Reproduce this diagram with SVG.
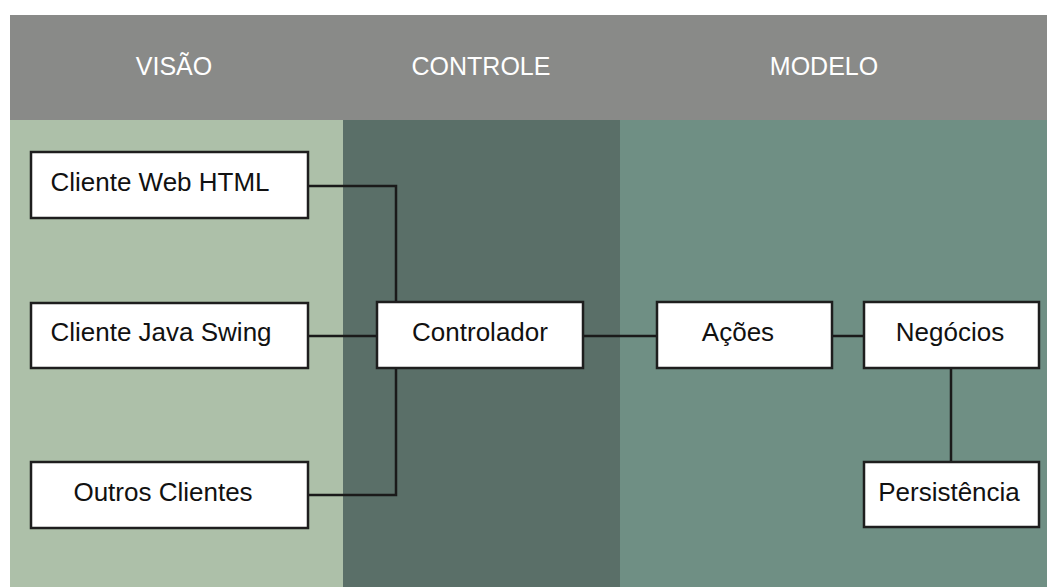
<svg xmlns="http://www.w3.org/2000/svg" width="1047" height="587" viewBox="0 0 1047 587">
<style>
.hdr{font-family:"Liberation Sans",Arial,sans-serif;font-size:25px;fill:#ffffff;text-anchor:middle}
.box{fill:#ffffff;stroke:#1e1e1e;stroke-width:2.5}
.lbl{font-family:"Liberation Sans",Arial,sans-serif;font-size:26px;fill:#111111;text-anchor:middle}
.con{fill:none;stroke:#1a1a1a;stroke-width:2.5}
</style>
<rect x="0" y="0" width="1047" height="587" fill="#ffffff"/>
<g id="lanes">
<rect x="10" y="15" width="1037" height="105" fill="#898a88"/>
<rect x="10" y="120" width="333" height="467" fill="#adc0a9"/>
<rect x="343" y="120" width="277" height="467" fill="#5a6f68"/>
<rect x="620" y="120" width="427" height="467" fill="#6f8f84"/>
<text class="hdr" x="174" y="75">VISÃO</text>
<text class="hdr" x="481" y="75">CONTROLE</text>
<text class="hdr" x="824" y="75">MODELO</text>
</g>
<g id="connectors">
<polyline class="con" points="308,186 396,186 396,302"/>
<line class="con" x1="308" y1="336" x2="377" y2="336"/>
<polyline class="con" points="308,495 396,495 396,368"/>
<line class="con" x1="583" y1="336" x2="657" y2="336"/>
<line class="con" x1="832" y1="336" x2="864" y2="336"/>
<line class="con" x1="951" y1="368" x2="951" y2="462"/>
</g>
<g id="cliente-web">
<rect class="box" x="31" y="152" width="277" height="66"/>
<text class="lbl" x="160" y="191">Cliente Web HTML</text>
</g>
<g id="cliente-java">
<rect class="box" x="31" y="303" width="277" height="65"/>
<text class="lbl" x="161" y="341">Cliente Java Swing</text>
</g>
<g id="outros">
<rect class="box" x="31" y="462" width="277" height="66"/>
<text class="lbl" x="163" y="501">Outros Clientes</text>
</g>
<g id="controlador">
<rect class="box" x="377" y="302" width="206" height="66"/>
<text class="lbl" x="480" y="341">Controlador</text>
</g>
<g id="acoes">
<rect class="box" x="657" y="302" width="175" height="66"/>
<text class="lbl" x="738" y="341">Ações</text>
</g>
<g id="negocios">
<rect class="box" x="864" y="302" width="175" height="66"/>
<text class="lbl" x="950" y="341">Negócios</text>
</g>
<g id="persistencia">
<rect class="box" x="864" y="462" width="175" height="65"/>
<text class="lbl" x="949" y="501">Persistência</text>
</g>
</svg>
